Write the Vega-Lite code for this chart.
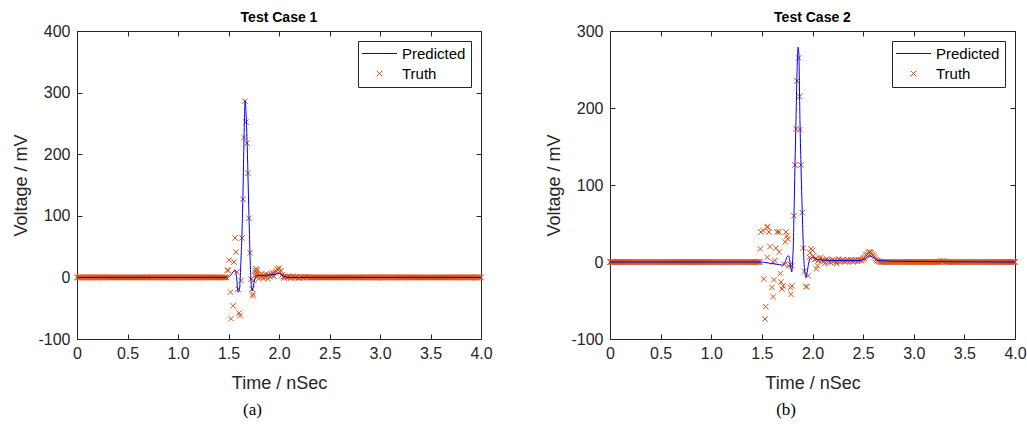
{
"$schema": "https://vega.github.io/schema/vega-lite/v6.json",
"background": "white",
"padding": {"left": 12, "top": 10, "right": 2, "bottom": 2},
"spacing": 52,
"config": {
 "font": "Liberation Sans",
 "view": {"stroke": "#262626", "strokeWidth": 1},
 "axis": {"grid": false, "domain": false, "ticks": true, "tickColor": "#262626", "tickSize": -5, "labelFont": "Liberation Sans", "labelFontSize": 16, "labelColor": "#262626", "titleFont": "Liberation Sans", "titleFontSize": 18, "titleFontWeight": "normal", "titleColor": "#262626", "labelFlush": false, "labelOverlap": false, "labelPadding": 12},
 "legend": {"title": null, "orient": "top-right", "offset": 10, "strokeColor": "#262626", "fillColor": "white", "padding": 5, "labelFont": "Liberation Sans", "labelFontSize": 15, "labelColor": "black", "symbolSize": 100, "symbolOffset": 9, "labelOffset": 15, "rowPadding": 4}
},
"datasets": {
 "t1": [
  {"t":0,"v":0},{"t":0.01,"v":0},{"t":0.02,"v":0},{"t":0.03,"v":0},{"t":0.04,"v":0},{"t":0.05,"v":0},{"t":0.06,"v":0},{"t":0.07,"v":0},{"t":0.08,"v":0},{"t":0.09,"v":0},{"t":0.1,"v":0},{"t":0.11,"v":0},{"t":0.12,"v":0},{"t":0.13,"v":0},{"t":0.14,"v":0},{"t":0.15,"v":0},{"t":0.16,"v":0},{"t":0.17,"v":0},{"t":0.18,"v":0},{"t":0.19,"v":0},{"t":0.2,"v":0},{"t":0.21,"v":0},{"t":0.22,"v":0},{"t":0.23,"v":0},{"t":0.24,"v":0},{"t":0.25,"v":0},{"t":0.26,"v":0},{"t":0.27,"v":0},{"t":0.28,"v":0},{"t":0.29,"v":0},{"t":0.3,"v":0},{"t":0.31,"v":0},{"t":0.32,"v":0},{"t":0.33,"v":0},{"t":0.34,"v":0},{"t":0.35,"v":0},{"t":0.36,"v":0},{"t":0.37,"v":0},{"t":0.38,"v":0},{"t":0.39,"v":0},{"t":0.4,"v":0},{"t":0.41,"v":0},{"t":0.42,"v":0},{"t":0.43,"v":0},{"t":0.44,"v":0},{"t":0.45,"v":0},{"t":0.46,"v":0},{"t":0.47,"v":0},{"t":0.48,"v":0},{"t":0.49,"v":0},{"t":0.5,"v":0},{"t":0.51,"v":0},{"t":0.52,"v":0},{"t":0.53,"v":0},{"t":0.54,"v":0},{"t":0.55,"v":0},{"t":0.56,"v":0},{"t":0.57,"v":0},{"t":0.58,"v":0},{"t":0.59,"v":0},{"t":0.6,"v":0},{"t":0.61,"v":0},{"t":0.62,"v":0},{"t":0.63,"v":0},{"t":0.64,"v":0},{"t":0.65,"v":0},{"t":0.66,"v":0},{"t":0.67,"v":0},{"t":0.68,"v":0},{"t":0.69,"v":0},{"t":0.7,"v":0},{"t":0.71,"v":0},{"t":0.72,"v":0},{"t":0.73,"v":0},{"t":0.74,"v":0},{"t":0.75,"v":0},{"t":0.76,"v":0},{"t":0.77,"v":0},{"t":0.78,"v":0},{"t":0.79,"v":0},{"t":0.8,"v":0},{"t":0.81,"v":0},{"t":0.82,"v":0},{"t":0.83,"v":0},{"t":0.84,"v":0},{"t":0.85,"v":0},{"t":0.86,"v":0},{"t":0.87,"v":0},{"t":0.88,"v":0},{"t":0.89,"v":0},{"t":0.9,"v":0},{"t":0.91,"v":0},{"t":0.92,"v":0},{"t":0.93,"v":0},{"t":0.94,"v":0},{"t":0.95,"v":0},{"t":0.96,"v":0},{"t":0.97,"v":0},{"t":0.98,"v":0},{"t":0.99,"v":0},{"t":1,"v":0},{"t":1.01,"v":0},{"t":1.02,"v":0},{"t":1.03,"v":0},{"t":1.04,"v":0},{"t":1.05,"v":0},{"t":1.06,"v":0},{"t":1.07,"v":0},{"t":1.08,"v":0},{"t":1.09,"v":0},{"t":1.1,"v":0},{"t":1.11,"v":0},{"t":1.12,"v":0},{"t":1.13,"v":0},{"t":1.14,"v":0},{"t":1.15,"v":0},{"t":1.16,"v":0},{"t":1.17,"v":0},{"t":1.18,"v":0},{"t":1.19,"v":0},{"t":1.2,"v":0},{"t":1.21,"v":0},{"t":1.22,"v":0},{"t":1.23,"v":0},{"t":1.24,"v":0},{"t":1.25,"v":0},{"t":1.26,"v":0},{"t":1.27,"v":0},{"t":1.28,"v":0},{"t":1.29,"v":0},{"t":1.3,"v":0},{"t":1.31,"v":0},{"t":1.32,"v":0},{"t":1.33,"v":0},{"t":1.34,"v":0},{"t":1.35,"v":0},{"t":1.36,"v":0},{"t":1.37,"v":0},{"t":1.38,"v":0},{"t":1.39,"v":0},{"t":1.4,"v":0},{"t":1.41,"v":0},{"t":1.42,"v":0},{"t":1.43,"v":0},{"t":1.44,"v":0},{"t":1.45,"v":0},{"t":1.46,"v":0},{"t":1.47,"v":0},{"t":1.48,"v":0},
  {"t":1.49,"v":12},{"t":1.495,"v":11},{"t":1.505,"v":28},{"t":1.52,"v":-24},{"t":1.525,"v":-67},{"t":1.545,"v":-46},{"t":1.554,"v":25},{"t":1.564,"v":64},{"t":1.574,"v":41},{"t":1.584,"v":9},{"t":1.594,"v":-19},{"t":1.604,"v":-58},{"t":1.614,"v":-62},{"t":1.624,"v":-5},{"t":1.634,"v":64},{"t":1.644,"v":127},{"t":1.653,"v":227},{"t":1.663,"v":286},{"t":1.673,"v":252},{"t":1.683,"v":218},{"t":1.693,"v":169},{"t":1.703,"v":96},{"t":1.713,"v":40},{"t":1.723,"v":-3},{"t":1.733,"v":-19},{"t":1.738,"v":-30},{"t":1.745,"v":-27},
  {"t":1.75,"v":-5},{"t":1.76,"v":3},{"t":1.765,"v":11},{"t":1.77,"v":14},{"t":1.775,"v":8},{"t":1.78,"v":5},{"t":1.785,"v":12},{"t":1.79,"v":2},{"t":1.8,"v":-2},{"t":1.81,"v":4},{"t":1.82,"v":1},{"t":1.83,"v":6},{"t":1.84,"v":-1},{"t":1.85,"v":3},{"t":1.86,"v":0},{"t":1.87,"v":5},{"t":1.88,"v":2},{"t":1.89,"v":-2},{"t":1.9,"v":4},{"t":1.91,"v":1},{"t":1.92,"v":6},{"t":1.93,"v":3},{"t":1.94,"v":7},{"t":1.95,"v":2},{"t":1.96,"v":8},{"t":1.97,"v":10},{"t":1.98,"v":14},{"t":1.99,"v":12},{"t":2,"v":15},{"t":2.01,"v":9},{"t":2.02,"v":11},{"t":2.03,"v":4},{"t":2.04,"v":1},{"t":2.05,"v":-1},{"t":2.06,"v":2},{"t":2.07,"v":1},{"t":2.08,"v":0},{"t":2.09,"v":1},
  {"t":2.1,"v":1},{"t":2.11,"v":0},{"t":2.12,"v":-1},{"t":2.13,"v":1},{"t":2.14,"v":2},{"t":2.15,"v":0},{"t":2.16,"v":0},{"t":2.17,"v":1},{"t":2.18,"v":1},{"t":2.19,"v":-1},{"t":2.2,"v":-1},{"t":2.21,"v":0},{"t":2.22,"v":1},{"t":2.23,"v":0},{"t":2.24,"v":0},{"t":2.25,"v":1},{"t":2.26,"v":1},{"t":2.27,"v":0},{"t":2.28,"v":0},{"t":2.29,"v":0},{"t":2.3,"v":0},{"t":2.31,"v":0},{"t":2.32,"v":0},{"t":2.33,"v":0},{"t":2.34,"v":0},{"t":2.35,"v":0},{"t":2.36,"v":0},{"t":2.37,"v":0},{"t":2.38,"v":0},{"t":2.39,"v":0},{"t":2.4,"v":0},{"t":2.41,"v":0},{"t":2.42,"v":0},{"t":2.43,"v":0},{"t":2.44,"v":0},{"t":2.45,"v":0},{"t":2.46,"v":0},{"t":2.47,"v":0},{"t":2.48,"v":0},{"t":2.49,"v":0},{"t":2.5,"v":0},{"t":2.51,"v":0},{"t":2.52,"v":0},{"t":2.53,"v":0},{"t":2.54,"v":0},{"t":2.55,"v":0},{"t":2.56,"v":0},{"t":2.57,"v":0},{"t":2.58,"v":0},{"t":2.59,"v":0},{"t":2.6,"v":0},{"t":2.61,"v":0},{"t":2.62,"v":0},{"t":2.63,"v":0},{"t":2.64,"v":0},{"t":2.65,"v":0},{"t":2.66,"v":0},{"t":2.67,"v":0},{"t":2.68,"v":0},{"t":2.69,"v":0},{"t":2.7,"v":0},{"t":2.71,"v":0},{"t":2.72,"v":0},{"t":2.73,"v":0},{"t":2.74,"v":0},{"t":2.75,"v":0},{"t":2.76,"v":0},{"t":2.77,"v":0},{"t":2.78,"v":0},{"t":2.79,"v":0},{"t":2.8,"v":0},{"t":2.81,"v":0},{"t":2.82,"v":0},{"t":2.83,"v":0},{"t":2.84,"v":0},{"t":2.85,"v":0},{"t":2.86,"v":0},{"t":2.87,"v":0},{"t":2.88,"v":0},{"t":2.89,"v":0},{"t":2.9,"v":0},{"t":2.91,"v":0},{"t":2.92,"v":0},{"t":2.93,"v":0},{"t":2.94,"v":0},{"t":2.95,"v":0},{"t":2.96,"v":0},{"t":2.97,"v":0},{"t":2.98,"v":0},{"t":2.99,"v":0},{"t":3,"v":0},{"t":3.01,"v":0},{"t":3.02,"v":0},{"t":3.03,"v":0},{"t":3.04,"v":0},{"t":3.05,"v":0},{"t":3.06,"v":0},{"t":3.07,"v":0},{"t":3.08,"v":0},{"t":3.09,"v":0},{"t":3.1,"v":0},{"t":3.11,"v":0},{"t":3.12,"v":0},{"t":3.13,"v":0},{"t":3.14,"v":0},{"t":3.15,"v":0},{"t":3.16,"v":0},{"t":3.17,"v":0},{"t":3.18,"v":0},{"t":3.19,"v":0},{"t":3.2,"v":0},{"t":3.21,"v":0},{"t":3.22,"v":0},{"t":3.23,"v":0},{"t":3.24,"v":0},{"t":3.25,"v":0},{"t":3.26,"v":0},{"t":3.27,"v":0},{"t":3.28,"v":0},{"t":3.29,"v":0},{"t":3.3,"v":0},{"t":3.31,"v":0},{"t":3.32,"v":0},{"t":3.33,"v":0},{"t":3.34,"v":0},{"t":3.35,"v":0},{"t":3.36,"v":0},{"t":3.37,"v":0},{"t":3.38,"v":0},{"t":3.39,"v":0},{"t":3.4,"v":0},{"t":3.41,"v":0},{"t":3.42,"v":0},{"t":3.43,"v":0},{"t":3.44,"v":0},{"t":3.45,"v":0},{"t":3.46,"v":0},{"t":3.47,"v":0},{"t":3.48,"v":0},{"t":3.49,"v":0},{"t":3.5,"v":0},{"t":3.51,"v":0},{"t":3.52,"v":0},{"t":3.53,"v":0},{"t":3.54,"v":0},{"t":3.55,"v":0},{"t":3.56,"v":0},{"t":3.57,"v":0},{"t":3.58,"v":0},{"t":3.59,"v":0},{"t":3.6,"v":0},{"t":3.61,"v":0},{"t":3.62,"v":0},{"t":3.63,"v":0},{"t":3.64,"v":0},{"t":3.65,"v":0},{"t":3.66,"v":0},{"t":3.67,"v":0},{"t":3.68,"v":0},{"t":3.69,"v":0},{"t":3.7,"v":0},{"t":3.71,"v":0},{"t":3.72,"v":0},{"t":3.73,"v":0},{"t":3.74,"v":0},{"t":3.75,"v":0},{"t":3.76,"v":0},{"t":3.77,"v":0},{"t":3.78,"v":0},{"t":3.79,"v":0},{"t":3.8,"v":0},{"t":3.81,"v":0},{"t":3.82,"v":0},{"t":3.83,"v":0},{"t":3.84,"v":0},{"t":3.85,"v":0},{"t":3.86,"v":0},{"t":3.87,"v":0},{"t":3.88,"v":0},{"t":3.89,"v":0},{"t":3.9,"v":0},{"t":3.91,"v":0},{"t":3.92,"v":0},{"t":3.93,"v":0},{"t":3.94,"v":0},{"t":3.95,"v":0},{"t":3.96,"v":0},{"t":3.97,"v":0},{"t":3.98,"v":0},{"t":3.99,"v":0},{"t":4,"v":0}
 ],
 "p1": [
  {"t":0,"v":0},{"t":1.48,"v":0},{"t":1.52,"v":3},{"t":1.545,"v":9},{"t":1.565,"v":11},{"t":1.58,"v":0},{"t":1.595,"v":-24},{"t":1.605,"v":-22},{"t":1.615,"v":-5},{"t":1.625,"v":35},{"t":1.635,"v":80},{"t":1.645,"v":150},{"t":1.655,"v":235},{"t":1.665,"v":287},{"t":1.675,"v":262},{"t":1.685,"v":215},{"t":1.695,"v":150},{"t":1.705,"v":85},{"t":1.715,"v":25},{"t":1.725,"v":-12},{"t":1.735,"v":-22},{"t":1.745,"v":-14},{"t":1.76,"v":-3},{"t":1.78,"v":3},{"t":1.82,"v":3},{"t":1.9,"v":4},{"t":1.96,"v":5},{"t":1.99,"v":7},{"t":2.02,"v":5},{"t":2.06,"v":1},{"t":2.1,"v":0},{"t":4,"v":0}
 ],
 "t2": [
  {"t":0,"v":0},{"t":0.01,"v":0},{"t":0.02,"v":0},{"t":0.03,"v":0},{"t":0.04,"v":0},{"t":0.05,"v":0},{"t":0.06,"v":0},{"t":0.07,"v":0},{"t":0.08,"v":0},{"t":0.09,"v":0},{"t":0.1,"v":0},{"t":0.11,"v":0},{"t":0.12,"v":0},{"t":0.13,"v":0},{"t":0.14,"v":0},{"t":0.15,"v":0},{"t":0.16,"v":0},{"t":0.17,"v":0},{"t":0.18,"v":0},{"t":0.19,"v":0},{"t":0.2,"v":0},{"t":0.21,"v":0},{"t":0.22,"v":0},{"t":0.23,"v":0},{"t":0.24,"v":0},{"t":0.25,"v":0},{"t":0.26,"v":0},{"t":0.27,"v":0},{"t":0.28,"v":0},{"t":0.29,"v":0},{"t":0.3,"v":0},{"t":0.31,"v":0},{"t":0.32,"v":0},{"t":0.33,"v":0},{"t":0.34,"v":0},{"t":0.35,"v":0},{"t":0.36,"v":0},{"t":0.37,"v":0},{"t":0.38,"v":0},{"t":0.39,"v":0},{"t":0.4,"v":0},{"t":0.41,"v":0},{"t":0.42,"v":0},{"t":0.43,"v":0},{"t":0.44,"v":0},{"t":0.45,"v":0},{"t":0.46,"v":0},{"t":0.47,"v":0},{"t":0.48,"v":0},{"t":0.49,"v":0},{"t":0.5,"v":0},{"t":0.51,"v":0},{"t":0.52,"v":0},{"t":0.53,"v":0},{"t":0.54,"v":0},{"t":0.55,"v":0},{"t":0.56,"v":0},{"t":0.57,"v":0},{"t":0.58,"v":0},{"t":0.59,"v":0},{"t":0.6,"v":0},{"t":0.61,"v":0},{"t":0.62,"v":0},{"t":0.63,"v":0},{"t":0.64,"v":0},{"t":0.65,"v":0},{"t":0.66,"v":0},{"t":0.67,"v":0},{"t":0.68,"v":0},{"t":0.69,"v":0},{"t":0.7,"v":0},{"t":0.71,"v":0},{"t":0.72,"v":0},{"t":0.73,"v":0},{"t":0.74,"v":0},{"t":0.75,"v":0},{"t":0.76,"v":0},{"t":0.77,"v":0},{"t":0.78,"v":0},{"t":0.79,"v":0},{"t":0.8,"v":0},{"t":0.81,"v":0},{"t":0.82,"v":0},{"t":0.83,"v":0},{"t":0.84,"v":0},{"t":0.85,"v":0},{"t":0.86,"v":0},{"t":0.87,"v":0},{"t":0.88,"v":0},{"t":0.89,"v":0},{"t":0.9,"v":0},{"t":0.91,"v":0},{"t":0.92,"v":0},{"t":0.93,"v":0},{"t":0.94,"v":0},{"t":0.95,"v":0},{"t":0.96,"v":0},{"t":0.97,"v":0},{"t":0.98,"v":0},{"t":0.99,"v":0},{"t":1,"v":0},{"t":1.01,"v":0},{"t":1.02,"v":0},{"t":1.03,"v":0},{"t":1.04,"v":0},{"t":1.05,"v":0},{"t":1.06,"v":0},{"t":1.07,"v":0},{"t":1.08,"v":0},{"t":1.09,"v":0},{"t":1.1,"v":0},{"t":1.11,"v":0},{"t":1.12,"v":0},{"t":1.13,"v":0},{"t":1.14,"v":0},{"t":1.15,"v":0},{"t":1.16,"v":0},{"t":1.17,"v":0},{"t":1.18,"v":0},{"t":1.19,"v":0},{"t":1.2,"v":0},{"t":1.21,"v":0},{"t":1.22,"v":0},{"t":1.23,"v":0},{"t":1.24,"v":0},{"t":1.25,"v":0},{"t":1.26,"v":0},{"t":1.27,"v":0},{"t":1.28,"v":0},{"t":1.29,"v":0},{"t":1.3,"v":0},{"t":1.31,"v":0},{"t":1.32,"v":0},{"t":1.33,"v":0},{"t":1.34,"v":0},{"t":1.35,"v":0},{"t":1.36,"v":0},{"t":1.37,"v":0},{"t":1.38,"v":0},{"t":1.39,"v":0},{"t":1.4,"v":0},{"t":1.41,"v":0},{"t":1.42,"v":0},{"t":1.43,"v":0},{"t":1.44,"v":0},{"t":1.45,"v":0},{"t":1.46,"v":0},{"t":1.47,"v":0},{"t":1.48,"v":0},
  {"t":1.485,"v":17},{"t":1.491,"v":39},{"t":1.511,"v":41},{"t":1.518,"v":-22},{"t":1.531,"v":-74},{"t":1.538,"v":-58},{"t":1.551,"v":45},{"t":1.553,"v":6},{"t":1.557,"v":46},{"t":1.57,"v":39},{"t":1.58,"v":20},{"t":1.6,"v":-33},{"t":1.61,"v":-45},{"t":1.612,"v":0},{"t":1.62,"v":-23},{"t":1.629,"v":2},{"t":1.639,"v":18},{"t":1.649,"v":39},{"t":1.669,"v":39},{"t":1.672,"v":13},{"t":1.682,"v":-15},{"t":1.689,"v":-26},{"t":1.699,"v":-35},{"t":1.709,"v":-31},{"t":1.722,"v":-3},{"t":1.731,"v":26},{"t":1.738,"v":39},{"t":1.748,"v":34},{"t":1.755,"v":30},{"t":1.765,"v":-5},{"t":1.781,"v":-3},{"t":1.783,"v":-33},{"t":1.788,"v":-42},{"t":1.795,"v":-5},{"t":1.797,"v":-31},{"t":1.817,"v":60},{"t":1.827,"v":126},{"t":1.837,"v":173},{"t":1.847,"v":235},{"t":1.863,"v":265},{"t":1.873,"v":215},{"t":1.876,"v":172},{"t":1.886,"v":126},{"t":1.9,"v":64},{"t":1.909,"v":18},{"t":1.919,"v":-12},{"t":1.935,"v":-32},{"t":1.945,"v":-32},{"t":1.958,"v":-18},{"t":1.968,"v":6},{"t":1.975,"v":12},{"t":1.985,"v":17},{"t":2.002,"v":15},{"t":2.01,"v":8},{"t":2.02,"v":3},{"t":2.034,"v":4},{"t":2.038,"v":-9},{"t":2.05,"v":-5},{"t":2.06,"v":2},{"t":2.07,"v":5},{"t":2.083,"v":6},{"t":2.09,"v":2},
  {"t":2.1,"v":3},{"t":2.11,"v":1},{"t":2.12,"v":-2},{"t":2.13,"v":2},{"t":2.14,"v":4},{"t":2.15,"v":2},{"t":2.16,"v":1},{"t":2.17,"v":0},{"t":2.18,"v":-1},{"t":2.19,"v":2},{"t":2.2,"v":3},{"t":2.21,"v":1},{"t":2.22,"v":2},{"t":2.23,"v":0},{"t":2.24,"v":-2},{"t":2.25,"v":1},{"t":2.26,"v":4},{"t":2.27,"v":2},{"t":2.28,"v":1},{"t":2.29,"v":2},{"t":2.3,"v":3},{"t":2.31,"v":1},{"t":2.32,"v":0},{"t":2.33,"v":1},{"t":2.34,"v":2},{"t":2.35,"v":3},{"t":2.36,"v":1},{"t":2.37,"v":2},{"t":2.38,"v":3},{"t":2.39,"v":1},{"t":2.4,"v":0},{"t":2.41,"v":1},{"t":2.42,"v":2},{"t":2.43,"v":3},{"t":2.44,"v":1},{"t":2.45,"v":2},{"t":2.46,"v":3},{"t":2.47,"v":2},{"t":2.48,"v":2},{"t":2.49,"v":3},{"t":2.5,"v":4},{"t":2.51,"v":5},{"t":2.52,"v":7},{"t":2.53,"v":9},{"t":2.54,"v":10},{"t":2.55,"v":12},{"t":2.56,"v":13},{"t":2.57,"v":13},{"t":2.58,"v":12},{"t":2.59,"v":10},{"t":2.6,"v":9},{"t":2.61,"v":7},{"t":2.62,"v":5},{"t":2.63,"v":3},{"t":2.64,"v":2},{"t":2.65,"v":1},{"t":2.66,"v":1},{"t":2.67,"v":0},{"t":2.68,"v":0},{"t":2.69,"v":0},
  {"t":2.7,"v":0},{"t":2.71,"v":0},{"t":2.72,"v":0},{"t":2.73,"v":0},{"t":2.74,"v":0},{"t":2.75,"v":0},{"t":2.76,"v":0},{"t":2.77,"v":0},{"t":2.78,"v":0},{"t":2.79,"v":0},{"t":2.8,"v":0},{"t":2.81,"v":0},{"t":2.82,"v":0},{"t":2.83,"v":0},{"t":2.84,"v":0},{"t":2.85,"v":0},{"t":2.86,"v":0},{"t":2.87,"v":0},{"t":2.88,"v":0},{"t":2.89,"v":0},{"t":2.9,"v":0},{"t":2.91,"v":0},{"t":2.92,"v":0},{"t":2.93,"v":0},{"t":2.94,"v":0},{"t":2.95,"v":0},{"t":2.96,"v":0},{"t":2.97,"v":0},{"t":2.98,"v":0},{"t":2.99,"v":0},{"t":3,"v":0},{"t":3.01,"v":0},{"t":3.02,"v":0},{"t":3.03,"v":0},{"t":3.04,"v":0},{"t":3.05,"v":0},{"t":3.06,"v":0},{"t":3.07,"v":0},{"t":3.08,"v":0},{"t":3.09,"v":0},{"t":3.1,"v":0},{"t":3.11,"v":0},{"t":3.12,"v":0},{"t":3.13,"v":0},{"t":3.14,"v":0},{"t":3.15,"v":0},{"t":3.16,"v":0},{"t":3.17,"v":0},{"t":3.18,"v":0},{"t":3.19,"v":0},{"t":3.2,"v":0},{"t":3.21,"v":0},{"t":3.22,"v":0},{"t":3.23,"v":0},{"t":3.24,"v":0},{"t":3.25,"v":0},{"t":3.26,"v":0},{"t":3.27,"v":1},{"t":3.28,"v":1},{"t":3.29,"v":1},{"t":3.3,"v":1},{"t":3.31,"v":0},{"t":3.32,"v":0},{"t":3.33,"v":0},{"t":3.34,"v":0},{"t":3.35,"v":0},{"t":3.36,"v":0},{"t":3.37,"v":0},{"t":3.38,"v":0},{"t":3.39,"v":0},{"t":3.4,"v":0},{"t":3.41,"v":0},{"t":3.42,"v":0},{"t":3.43,"v":0},{"t":3.44,"v":0},{"t":3.45,"v":0},{"t":3.46,"v":0},{"t":3.47,"v":0},{"t":3.48,"v":0},{"t":3.49,"v":0},{"t":3.5,"v":0},{"t":3.51,"v":0},{"t":3.52,"v":0},{"t":3.53,"v":0},{"t":3.54,"v":0},{"t":3.55,"v":0},{"t":3.56,"v":0},{"t":3.57,"v":0},{"t":3.58,"v":0},{"t":3.59,"v":0},{"t":3.6,"v":0},{"t":3.61,"v":0},{"t":3.62,"v":0},{"t":3.63,"v":0},{"t":3.64,"v":0},{"t":3.65,"v":0},{"t":3.66,"v":0},{"t":3.67,"v":0},{"t":3.68,"v":0},{"t":3.69,"v":0},{"t":3.7,"v":0},{"t":3.71,"v":0},{"t":3.72,"v":0},{"t":3.73,"v":0},{"t":3.74,"v":0},{"t":3.75,"v":0},{"t":3.76,"v":0},{"t":3.77,"v":0},{"t":3.78,"v":0},{"t":3.79,"v":0},{"t":3.8,"v":0},{"t":3.81,"v":0},{"t":3.82,"v":0},{"t":3.83,"v":0},{"t":3.84,"v":0},{"t":3.85,"v":0},{"t":3.86,"v":0},{"t":3.87,"v":0},{"t":3.88,"v":0},{"t":3.89,"v":0},{"t":3.9,"v":0},{"t":3.91,"v":0},{"t":3.92,"v":0},{"t":3.93,"v":0},{"t":3.94,"v":0},{"t":3.95,"v":0},{"t":3.96,"v":0},{"t":3.97,"v":0},{"t":3.98,"v":0},{"t":3.99,"v":0},{"t":4,"v":0}
 ],
 "p2": [
  {"t":0,"v":0},{"t":1.48,"v":0},{"t":1.55,"v":-1},{"t":1.65,"v":-3},{"t":1.7,"v":-4},{"t":1.73,"v":0},{"t":1.75,"v":7},{"t":1.765,"v":8},{"t":1.78,"v":-2},{"t":1.795,"v":-13},{"t":1.805,"v":5},{"t":1.81,"v":20},{"t":1.817,"v":60},{"t":1.827,"v":126},{"t":1.837,"v":185},{"t":1.847,"v":245},{"t":1.857,"v":279},{"t":1.865,"v":272},{"t":1.876,"v":185},{"t":1.886,"v":126},{"t":1.9,"v":60},{"t":1.91,"v":18},{"t":1.92,"v":-8},{"t":1.935,"v":-20},{"t":1.948,"v":-13},{"t":1.96,"v":-3},{"t":1.98,"v":5},{"t":2,"v":6},{"t":2.05,"v":3},{"t":2.2,"v":2},{"t":2.45,"v":2},{"t":2.52,"v":4},{"t":2.56,"v":8},{"t":2.6,"v":6},{"t":2.65,"v":2},{"t":2.8,"v":1},{"t":4,"v":0}
 ]
},
"resolve": {"scale": {"color": "independent"}, "legend": {"color": "independent"}},
"hconcat": [
 {
  "title": {"text": "(a)", "orient": "bottom", "anchor": "middle", "font": "Liberation Serif", "fontSize": 17, "fontWeight": "normal", "color": "black", "offset": 9},
  "resolve": {"scale": {"color": "independent"}, "legend": {"color": "independent"}},
  "vconcat": [
   {
    "title": {"text": "Test Case 1", "font": "Liberation Sans", "fontSize": 14, "fontWeight": "bold", "color": "black", "offset": -2, "anchor": "middle", "frame": "group"},
    "width": 404, "height": 308,
    "resolve": {"axis": {"x": "independent", "y": "independent"}},
    "layer": [
     {
      "data": {"name": "t1"},
      "mark": {"type": "point", "shape": "M-1,-1L1,1M1,-1L-1,1", "filled": false, "size": 30, "strokeWidth": 1, "opacity": 1},
      "encoding": {
       "x": {"field": "t", "type": "quantitative", "scale": {"domain": [0, 4], "nice": false}, "axis": {"orient": "bottom", "values": [0, 0.5, 1, 1.5, 2, 2.5, 3, 3.5, 4], "labelExpr": "datum.value === 0 ? '0' : format(datum.value, '.1f')", "title": "Time / nSec", "titlePadding": 13, "labelPadding": 11}},
       "y": {"field": "v", "type": "quantitative", "scale": {"domain": [-100, 400], "nice": false}, "axis": {"orient": "left", "values": [-100, 0, 100, 200, 300, 400], "labelExpr": "'' + datum.value", "title": "Voltage / mV", "titlePadding": 7}},
       "color": {"datum": "Truth", "type": "nominal", "scale": {"domain": ["Predicted", "Truth"], "range": ["#0000ff", "#D95319"]},
        "legend": {"encode": {"symbols": {"update": {"shape": {"signal": "datum.value === 'Predicted' ? 'M-3.5,0L3.5,0' : 'M-0.55,-0.55L0.55,0.55M0.55,-0.55L-0.55,0.55'"}, "fill": {"value": "transparent"}, "strokeWidth": {"value": 1}, "opacity": {"value": 1}}}}}}
      }
     },
     {
      "data": {"name": "p1"},
      "mark": {"type": "line", "strokeWidth": 1, "interpolate": "monotone"},
      "encoding": {
       "x": {"field": "t", "type": "quantitative", "axis": {"orient": "top", "labels": false, "title": null, "values": [0, 0.5, 1, 1.5, 2, 2.5, 3, 3.5, 4]}},
       "y": {"field": "v", "type": "quantitative", "axis": {"orient": "right", "labels": false, "title": null, "values": [-100, 0, 100, 200, 300, 400]}},
       "color": {"datum": "Predicted", "type": "nominal",
        "legend": {"encode": {"symbols": {"update": {"shape": {"signal": "datum.value === 'Predicted' ? 'M-3.5,0L3.5,0' : 'M-0.55,-0.55L0.55,0.55M0.55,-0.55L-0.55,0.55'"}, "fill": {"value": "transparent"}, "strokeWidth": {"value": 1}, "opacity": {"value": 1}}}}}}
      }
     }
    ]
   }
  ]
 },
 {
  "title": {"text": "(b)", "orient": "bottom", "anchor": "middle", "font": "Liberation Serif", "fontSize": 17, "fontWeight": "normal", "color": "black", "offset": 9},
  "resolve": {"scale": {"color": "independent"}, "legend": {"color": "independent"}},
  "vconcat": [
   {
    "title": {"text": "Test Case 2", "font": "Liberation Sans", "fontSize": 14, "fontWeight": "bold", "color": "black", "offset": -2, "anchor": "middle", "frame": "group"},
    "width": 405, "height": 308,
    "resolve": {"axis": {"x": "independent", "y": "independent"}},
    "layer": [
     {
      "data": {"name": "t2"},
      "mark": {"type": "point", "shape": "M-1,-1L1,1M1,-1L-1,1", "filled": false, "size": 30, "strokeWidth": 1, "opacity": 1},
      "encoding": {
       "x": {"field": "t", "type": "quantitative", "scale": {"domain": [0, 4], "nice": false}, "axis": {"orient": "bottom", "values": [0, 0.5, 1, 1.5, 2, 2.5, 3, 3.5, 4], "labelExpr": "datum.value === 0 ? '0' : format(datum.value, '.1f')", "title": "Time / nSec", "titlePadding": 13, "labelPadding": 11}},
       "y": {"field": "v", "type": "quantitative", "scale": {"domain": [-100, 300], "nice": false}, "axis": {"orient": "left", "values": [-100, 0, 100, 200, 300], "labelExpr": "'' + datum.value", "title": "Voltage / mV", "titlePadding": 7}},
       "color": {"datum": "Truth", "type": "nominal", "scale": {"domain": ["Predicted", "Truth"], "range": ["#0000ff", "#D95319"]},
        "legend": {"encode": {"symbols": {"update": {"shape": {"signal": "datum.value === 'Predicted' ? 'M-3.5,0L3.5,0' : 'M-0.55,-0.55L0.55,0.55M0.55,-0.55L-0.55,0.55'"}, "fill": {"value": "transparent"}, "strokeWidth": {"value": 1}, "opacity": {"value": 1}}}}}}
      }
     },
     {
      "data": {"name": "p2"},
      "mark": {"type": "line", "strokeWidth": 1, "interpolate": "monotone"},
      "encoding": {
       "x": {"field": "t", "type": "quantitative", "axis": {"orient": "top", "labels": false, "title": null, "values": [0, 0.5, 1, 1.5, 2, 2.5, 3, 3.5, 4]}},
       "y": {"field": "v", "type": "quantitative", "axis": {"orient": "right", "labels": false, "title": null, "values": [-100, 0, 100, 200, 300]}},
       "color": {"datum": "Predicted", "type": "nominal",
        "legend": {"encode": {"symbols": {"update": {"shape": {"signal": "datum.value === 'Predicted' ? 'M-3.5,0L3.5,0' : 'M-0.55,-0.55L0.55,0.55M0.55,-0.55L-0.55,0.55'"}, "fill": {"value": "transparent"}, "strokeWidth": {"value": 1}, "opacity": {"value": 1}}}}}}
      }
     }
    ]
   }
  ]
 }
]
}
